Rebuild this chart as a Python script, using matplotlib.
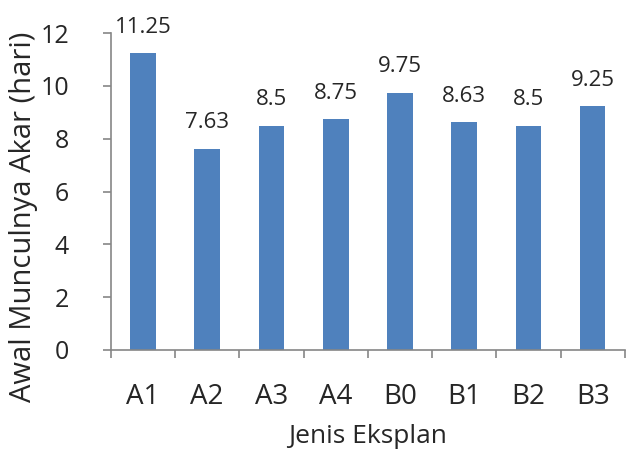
import matplotlib

matplotlib.use("Agg")
import matplotlib.pyplot as plt
import numpy as np

categories = ["A1", "A2", "A3", "A4", "B0", "B1", "B2", "B3"]
days = [11.25, 7.63, 8.5, 8.75, 9.75, 8.63, 8.5, 9.25]
value_labels = ["11.25", "7.63", "8.5", "8.75", "9.75", "8.63", "8.5", "9.25"]
y_ticks = [0, 2, 4, 6, 8, 10, 12]

plt.rcParams["font.family"] = ["Open Sans", "DejaVu Sans"]

BAR = "#4f81bd"
AXIS = "#868686"
TEXT = "#262626"

fig = plt.figure(figsize=(6.26, 4.55), dpi=100)
ax = fig.add_axes([0.177, 0.231, 0.821, 0.696])

x = np.arange(len(categories))
bars = ax.bar(x, days, width=0.4, color=BAR, zorder=2)

for bar, label in zip(bars, value_labels):
    ax.annotate(
        label,
        (bar.get_x() + bar.get_width() / 2, bar.get_height()),
        xytext=(0, 11),
        textcoords="offset points",
        ha="center",
        va="bottom",
        fontsize=16,
        color=TEXT,
    )

ax.set_xlim(-0.5, len(categories) - 0.5)
ax.set_ylim(0, 12)
ax.set_yticks(y_ticks)
ax.set_yticklabels([str(t) for t in y_ticks], fontsize=18, color=TEXT)
ax.set_xticks(x)
ax.set_xticklabels(categories, fontsize=20, color=TEXT)
ax.set_xticks(np.arange(-0.5, len(categories), 1), minor=True)
ax.tick_params(axis="x", which="major", length=0, pad=24)
ax.tick_params(axis="x", which="minor", length=6, width=1.2, color=AXIS, direction="out")
ax.tick_params(axis="y", length=6, width=1.2, color=AXIS, direction="out", pad=24)

ax.set_xlabel("Jenis Eksplan", fontsize=19, color=TEXT, labelpad=9)
ax.set_ylabel("Awal Munculnya Akar (hari)", fontsize=21, color=TEXT)
ax.yaxis.set_label_coords(-0.142, 0.42)

for side in ("top", "right"):
    ax.spines[side].set_visible(False)
for side in ("left", "bottom"):
    ax.spines[side].set_color(AXIS)
    ax.spines[side].set_linewidth(1.2)

fig.savefig("out.png", dpi=100, facecolor="white")
plt.close(fig)
